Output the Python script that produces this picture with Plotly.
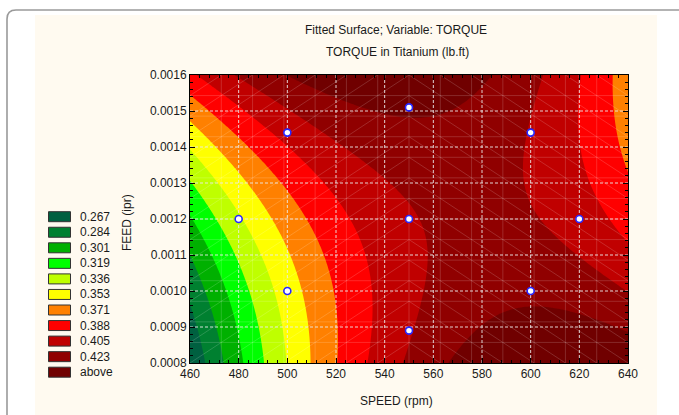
import numpy as np
import plotly.graph_objects as go

# Fitted second-order response surface for TORQUE, in coded units
#   u = (SPEED - 550) / 90,  v = (FEED - 0.0012) / 0.0004
# terms: 1, u, v, u^2, v^2, u*v
speed_center, speed_half = 550.0, 90.0
feed_center, feed_half = 0.0012, 0.0004
coef = [0.4039, 0.04075, 0.0141, -0.06315, 0.0185, -0.0524]

# experimental design points
design_speed = [500, 550, 600, 480, 550, 620, 500, 600, 550]
design_feed = [0.00144, 0.00151, 0.00144, 0.0012, 0.0012, 0.0012, 0.0010, 0.0010, 0.00089]

# contour classes
level_labels = ["0.267", "0.284", "0.301", "0.319", "0.336", "0.353",
                "0.371", "0.388", "0.405", "0.423", "above"]
level_colors = ["#006040", "#008030", "#00B000", "#00FF00", "#BFFF00", "#FFFF00",
                "#FF8000", "#FF0000", "#C00000", "#900000", "#700000"]

speed_ticks = [460, 480, 500, 520, 540, 560, 580, 600, 620, 640]
feed_ticks = [0.0008, 0.0009, 0.0010, 0.0011, 0.0012, 0.0013, 0.0014, 0.0015, 0.0016]

title_lines = ["Fitted Surface; Variable: TORQUE", "TORQUE in Titanium (lb.ft)"]
x_title = "SPEED (rpm)"
y_title = "FEED (ipr)"

FONT = "Liberation Sans, Arial, sans-serif"
W, H = 679, 415
ML, MR, MT, MB = 190, 51, 75, 52


def X(px):
    return (px - ML) / (W - ML - MR)


def Y(py):
    return (H - MB - py) / (H - MT - MB)


# evaluate the model on a fine grid
sx = np.linspace(speed_ticks[0], speed_ticks[-1], 241)
fy = np.linspace(feed_ticks[0], feed_ticks[-1], 241)
S, F = np.meshgrid(sx, fy)
u = (S - speed_center) / speed_half
v = (F - feed_center) / feed_half
Z = (coef[0] + coef[1] * u + coef[2] * v + coef[3] * u ** 2
     + coef[4] * v ** 2 + coef[5] * u * v)

lo = float(level_labels[0])
hi = float(level_labels[-2])
n_lev = len(level_labels) - 1
step = (hi - lo) / (n_lev - 1)

# stepped colour scale: one flat colour per class
ncls = len(level_colors)
cscale = []
for k, c in enumerate(level_colors):
    a = max(0.0, (k - 0.5) / (ncls - 1))
    b = min(1.0, (k + 0.5) / (ncls - 1))
    cscale.append([a, c])
    cscale.append([b, c])

fig = go.Figure()
fig.add_trace(go.Contour(
    x=sx, y=fy, z=Z, colorscale=cscale, autocontour=False,
    contours=dict(start=lo, end=hi, size=step, coloring="fill", showlines=False),
    line=dict(width=0), showscale=False, hoverinfo="skip",
))

# faint triangulated mesh of the surface
ms = np.linspace(speed_ticks[0], speed_ticks[-1], 15)
mf = np.linspace(feed_ticks[0], feed_ticks[-1], 15)
mx, my = [], []
for s in ms[1:-1]:
    mx += [s, s, None]
    my += [mf[0], mf[-1], None]
for f in mf[1:-1]:
    mx += [ms[0], ms[-1], None]
    my += [f, f, None]
for i in range(len(ms) - 1):
    for j in range(len(mf) - 1):
        if (ms[i] + ms[i + 1]) / 2 < speed_center:
            mx += [ms[i], ms[i + 1], None]
            my += [mf[j], mf[j + 1], None]
        else:
            mx += [ms[i], ms[i + 1], None]
            my += [mf[j + 1], mf[j], None]
fig.add_trace(go.Scatter(x=mx, y=my, mode="lines", hoverinfo="skip",
                         line=dict(color="rgba(255,255,255,0.16)", width=1)))

# dotted grid at the major ticks
gx, gy = [], []
for s in speed_ticks[1:-1]:
    gx += [s, s, None]
    gy += [feed_ticks[0], feed_ticks[-1], None]
for f in feed_ticks[1:-1]:
    gx += [speed_ticks[0], speed_ticks[-1], None]
    gy += [f, f, None]
fig.add_trace(go.Scatter(x=gx, y=gy, mode="lines", hoverinfo="skip",
                         line=dict(color="rgba(235,235,235,0.9)", width=1, dash="3px,2px")))

# design points
fig.add_trace(go.Scatter(
    x=design_speed, y=design_feed, mode="markers", hoverinfo="skip",
    marker=dict(size=7, color="white", line=dict(color="#2626ff", width=1.6)),
))

axis_common = dict(
    showline=True, linecolor="black", linewidth=1, mirror="allticks",
    ticks="inside", ticklen=5, tickcolor="black", showgrid=False, zeroline=False,
    tickfont=dict(family=FONT, size=12, color="#1a1a1a"), layer="above traces",
)
fig.update_xaxes(range=[speed_ticks[0], speed_ticks[-1]], tickvals=speed_ticks,
                 minor=dict(dtick=4, tick0=speed_ticks[0], ticks="inside", ticklen=3,
                            tickcolor="black"),
                 **axis_common)
fig.update_yaxes(range=[feed_ticks[0], feed_ticks[-1]], tickvals=feed_ticks,
                 ticktext=["%.4f" % f for f in feed_ticks],
                 minor=dict(dtick=0.00002, tick0=feed_ticks[0], ticks="inside", ticklen=3,
                            tickcolor="black"),
                 **axis_common)

shapes = [
    # cream panel
    dict(type="rect", xref="paper", yref="paper", x0=X(35), x1=X(657), y0=Y(15), y1=Y(440),
         fillcolor="#FFFAF0", line=dict(width=0), layer="below"),
    # rounded frame
    dict(type="path", xref="paper", yref="paper", layer="below",
         path=f"M {X(7)},{Y(440)} L {X(7)},{Y(19)} Q {X(7)},{Y(10)} {X(16)},{Y(10)} L {X(720)},{Y(10)}",
         line=dict(color="#9a9a9a", width=1.6)),
]
annotations = []
for k, (lab, col) in enumerate(zip(level_labels, level_colors)):
    yc = 216.7 + k * 15.55
    shapes.append(dict(type="rect", xref="paper", yref="paper", x0=X(48.5), x1=X(70.5),
                       y0=Y(yc + 5), y1=Y(yc - 5), fillcolor=col,
                       line=dict(color="#333333", width=1), layer="above"))
    annotations.append(dict(xref="paper", yref="paper", x=X(78), y=Y(yc), text=lab,
                            showarrow=False, xanchor="left", yanchor="middle",
                            font=dict(family=FONT, size=12, color="#1a1a1a")))

annotations += [
    dict(xref="paper", yref="paper", x=X(396), y=Y(30), text=title_lines[0],
         showarrow=False, xanchor="center", yanchor="middle",
         font=dict(family=FONT, size=12, color="#1a1a1a")),
    dict(xref="paper", yref="paper", x=X(397), y=Y(52), text=title_lines[1],
         showarrow=False, xanchor="center", yanchor="middle",
         font=dict(family=FONT, size=12, color="#1a1a1a")),
    dict(xref="paper", yref="paper", x=X(396), y=Y(401), text=x_title,
         showarrow=False, xanchor="center", yanchor="middle",
         font=dict(family=FONT, size=12, color="#1a1a1a")),
    dict(xref="paper", yref="paper", x=X(127), y=Y(223), text=y_title, textangle=-90,
         showarrow=False, xanchor="center", yanchor="middle",
         font=dict(family=FONT, size=12, color="#1a1a1a")),
]

fig.update_layout(
    width=W, height=H, margin=dict(l=ML, r=MR, t=MT, b=MB),
    paper_bgcolor="white", plot_bgcolor="rgba(0,0,0,0)",
    showlegend=False, shapes=shapes, annotations=annotations,
    font=dict(family=FONT, size=12, color="#1a1a1a"),
)

fig.write_html("out.html")
